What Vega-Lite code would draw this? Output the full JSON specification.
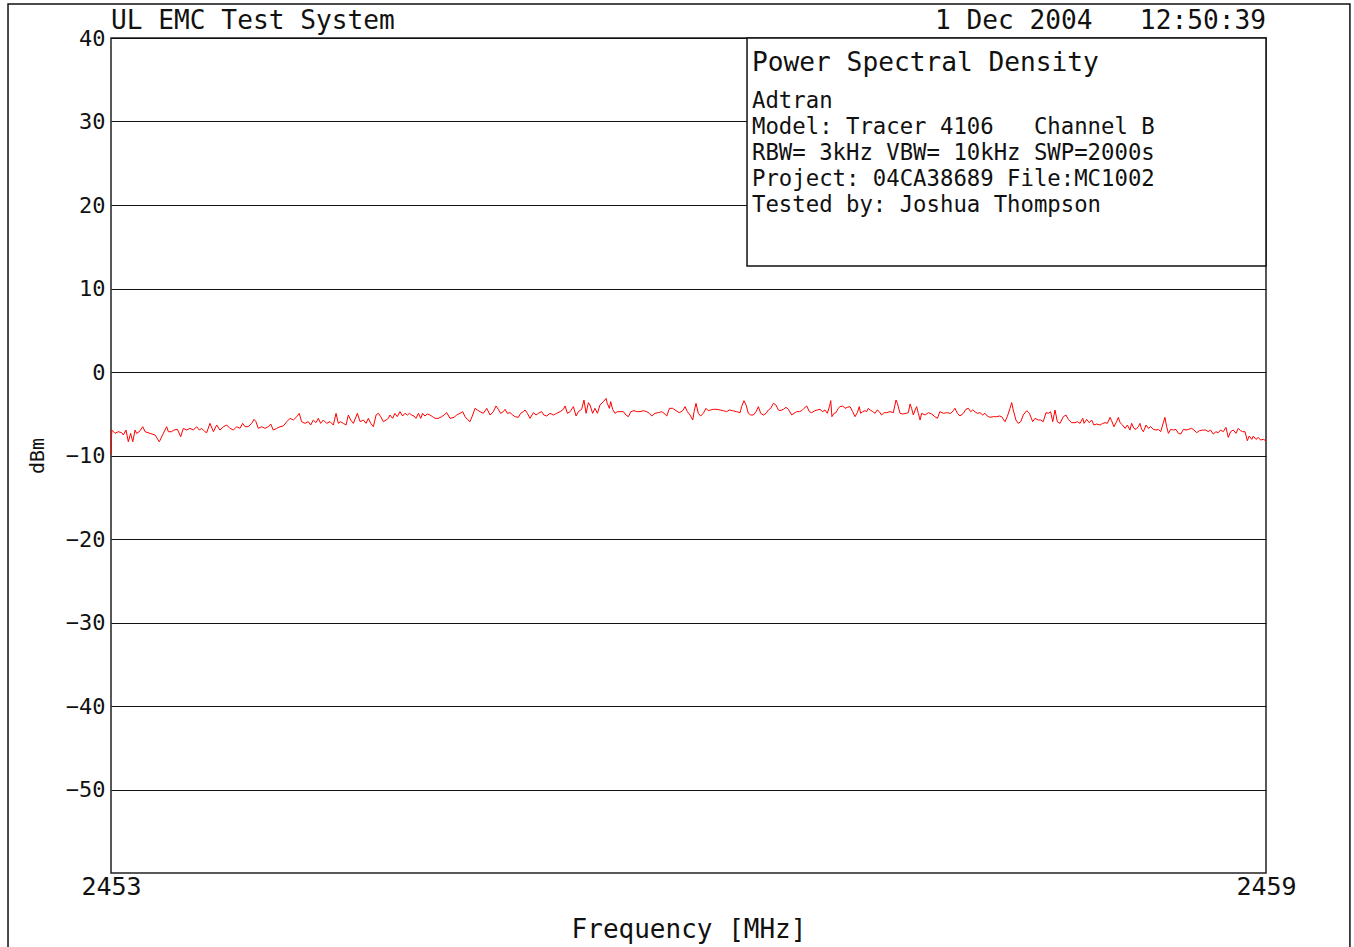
{
"$schema": "https://vega.github.io/schema/vega-lite/v6.json",
"autosize": "none",
"padding": {"left": 111, "top": 38, "right": 88, "bottom": 74},
"width": 1155,
"height": 835,
"background": "white",
"config": {
  "view": {"stroke": "#222", "strokeWidth": 1.5},
  "axis": {"labelFont": "DejaVu Sans Mono", "titleFont": "DejaVu Sans Mono", "labelColor": "#111", "titleColor": "#111", "titleFontWeight": "normal"},
  "text": {"font": "DejaVu Sans Mono", "color": "#111"}
},
"datasets": {
  "one": [{}],
  "trace": [
{"f":2453.000,"d":-9.9},{"f":2453.004,"d":-6.95},{"f":2453.021,"d":-7.35},{"f":2453.038,"d":-7.15},{"f":2453.056,"d":-7.27},{"f":2453.064,"d":-7.55},{"f":2453.078,"d":-6.95},{"f":2453.090,"d":-8.35},{"f":2453.102,"d":-7.35},{"f":2453.113,"d":-8.35},{"f":2453.125,"d":-6.95},{"f":2453.133,"d":-7.35},{"f":2453.147,"d":-7.15},{"f":2453.165,"d":-6.55},{"f":2453.177,"d":-7.15},{"f":2453.203,"d":-7.35},{"f":2453.229,"d":-7.55},{"f":2453.251,"d":-8.35},{"f":2453.272,"d":-7.35},{"f":2453.289,"d":-6.55},{"f":2453.298,"d":-7.15},{"f":2453.315,"d":-7.15},{"f":2453.327,"d":-6.95},{"f":2453.345,"d":-6.87},{"f":2453.362,"d":-7.75},{"f":2453.376,"d":-6.75},{"f":2453.393,"d":-6.95},{"f":2453.410,"d":-6.75},{"f":2453.428,"d":-6.95},{"f":2453.445,"d":-6.55},{"f":2453.459,"d":-6.95},{"f":2453.471,"d":-6.75},{"f":2453.488,"d":-7.15},{"f":2453.497,"d":-7.27},{"f":2453.514,"d":-6.15},{"f":2453.532,"d":-7.15},{"f":2453.549,"d":-6.35},{"f":2453.566,"d":-6.95},{"f":2453.584,"d":-6.55},{"f":2453.601,"d":-6.35},{"f":2453.618,"d":-6.75},{"f":2453.636,"d":-6.95},{"f":2453.653,"d":-6.55},{"f":2453.670,"d":-6.75},{"f":2453.684,"d":-6.15},{"f":2453.696,"d":-6.55},{"f":2453.713,"d":-6.55},{"f":2453.731,"d":-6.15},{"f":2453.743,"d":-5.67},{"f":2453.753,"d":-5.95},{"f":2453.765,"d":-6.75},{"f":2453.783,"d":-6.55},{"f":2453.800,"d":-6.75},{"f":2453.817,"d":-6.55},{"f":2453.830,"d":-6.23},{"f":2453.843,"d":-6.95},{"f":2453.861,"d":-6.75},{"f":2453.878,"d":-6.55},{"f":2453.895,"d":-6.47},{"f":2453.913,"d":-5.95},{"f":2453.930,"d":-5.55},{"f":2453.947,"d":-5.75},{"f":2453.965,"d":-5.35},{"f":2453.978,"d":-4.95},{"f":2453.990,"d":-5.95},{"f":2454.008,"d":-6.15},{"f":2454.025,"d":-5.95},{"f":2454.037,"d":-6.35},{"f":2454.051,"d":-5.75},{"f":2454.065,"d":-6.07},{"f":2454.077,"d":-5.55},{"f":2454.089,"d":-6.15},{"f":2454.103,"d":-5.75},{"f":2454.120,"d":-6.15},{"f":2454.138,"d":-5.95},{"f":2454.155,"d":-6.35},{"f":2454.169,"d":-4.95},{"f":2454.181,"d":-6.15},{"f":2454.193,"d":-5.95},{"f":2454.207,"d":-6.15},{"f":2454.221,"d":-6.35},{"f":2454.233,"d":-5.15},{"f":2454.245,"d":-5.75},{"f":2454.259,"d":-6.15},{"f":2454.280,"d":-4.95},{"f":2454.294,"d":-5.95},{"f":2454.311,"d":-5.75},{"f":2454.325,"d":-6.15},{"f":2454.337,"d":-5.55},{"f":2454.349,"d":-6.15},{"f":2454.363,"d":-6.55},{"f":2454.377,"d":-5.15},{"f":2454.389,"d":-4.95},{"f":2454.401,"d":-5.35},{"f":2454.415,"d":-5.95},{"f":2454.429,"d":-5.75},{"f":2454.441,"d":-5.55},
{"f":2454.449,"d":-5.15},{"f":2454.463,"d":-5.55},{"f":2454.475,"d":-4.95},{"f":2454.487,"d":-5.35},{"f":2454.501,"d":-4.75},{"f":2454.515,"d":-5.27},{"f":2454.527,"d":-4.95},{"f":2454.540,"d":-5.15},{"f":2454.550,"d":-4.95},{"f":2454.562,"d":-5.15},{"f":2454.574,"d":-5.27},{"f":2454.584,"d":-5.55},{"f":2454.597,"d":-4.95},{"f":2454.609,"d":-5.55},{"f":2454.619,"d":-4.95},{"f":2454.631,"d":-5.27},{"f":2454.643,"d":-5.03},{"f":2454.657,"d":-5.15},{"f":2454.671,"d":-5.35},{"f":2454.683,"d":-5.55},{"f":2454.700,"d":-5.55},{"f":2454.718,"d":-5.35},{"f":2454.730,"d":-5.15},{"f":2454.744,"d":-4.87},{"f":2454.761,"d":-5.55},{"f":2454.782,"d":-5.43},{"f":2454.796,"d":-5.15},{"f":2454.813,"d":-4.95},{"f":2454.827,"d":-4.75},{"f":2454.839,"d":-5.35},{"f":2454.851,"d":-5.67},{"f":2454.865,"d":-5.95},{"f":2454.879,"d":-5.15},{"f":2454.891,"d":-4.35},{"f":2454.903,"d":-4.55},{"f":2454.917,"d":-4.75},{"f":2454.934,"d":-4.95},{"f":2454.952,"d":-4.35},{"f":2454.969,"d":-5.15},{"f":2454.986,"d":-4.75},{"f":2455.000,"d":-4.07},{"f":2455.012,"d":-4.47},{"f":2455.024,"d":-4.95},{"f":2455.038,"d":-4.75},{"f":2455.047,"d":-4.47},{"f":2455.059,"d":-4.95},{"f":2455.073,"d":-4.87},{"f":2455.087,"d":-5.15},{"f":2455.099,"d":-5.35},{"f":2455.116,"d":-5.43},{"f":2455.128,"d":-4.95},{"f":2455.142,"d":-4.75},{"f":2455.151,"d":-4.55},{"f":2455.163,"d":-4.95},{"f":2455.177,"d":-5.55},{"f":2455.194,"d":-4.87},{"f":2455.208,"d":-5.15},{"f":2455.220,"d":-4.95},{"f":2455.237,"d":-4.75},{"f":2455.249,"d":-5.15},{"f":2455.263,"d":-5.27},{"f":2455.281,"d":-4.95},{"f":2455.298,"d":-5.15},{"f":2455.315,"d":-4.95},{"f":2455.333,"d":-4.75},{"f":2455.350,"d":-4.47},{"f":2455.359,"d":-4.07},{"f":2455.371,"d":-4.95},{"f":2455.385,"d":-4.75},{"f":2455.402,"d":-4.15},{"f":2455.416,"d":-5.27},{"f":2455.428,"d":-4.75},{"f":2455.445,"d":-4.47},{"f":2455.457,"d":-3.36},{"f":2455.468,"d":-4.95},{"f":2455.480,"d":-3.67},{"f":2455.488,"d":-3.95},{"f":2455.502,"d":-4.95},{"f":2455.514,"d":-4.35},{"f":2455.527,"d":-4.95},{"f":2455.540,"d":-3.95},{"f":2455.558,"d":-3.55},{"f":2455.572,"d":-3.16},{"f":2455.578,"d":-3.75},{"f":2455.589,"d":-4.35},{"f":2455.596,"d":-3.55},{"f":2455.606,"d":-4.47},{"f":2455.618,"d":-4.95},{"f":2455.630,"d":-4.75},{"f":2455.644,"d":-4.75},{"f":2455.662,"d":-4.75},{"f":2455.675,"d":-5.15},{"f":2455.688,"d":-5.35},{"f":2455.700,"d":-4.75},{"f":2455.717,"d":-4.63},{"f":2455.731,"d":-4.75},{"f":2455.748,"d":-4.75},{"f":2455.765,"d":-4.63},{"f":2455.783,"d":-4.75},{"f":2455.797,"d":-4.95},{"f":2455.809,"d":-5.27},{"f":2455.826,"d":-4.95},{"f":2455.843,"d":-4.87},{"f":2455.861,"d":-4.75},{"f":2455.873,"d":-4.95},{"f":2455.887,"d":-5.27},{"f":2455.901,"d":-4.35},{"f":2455.918,"d":-4.35},{"f":2455.935,"d":-4.63},{"f":2455.952,"d":-4.87},
{"f":2455.970,"d":-4.63},{"f":2455.982,"d":-4.15},{"f":2455.994,"d":-4.75},{"f":2456.008,"d":-5.15},{"f":2456.022,"d":-5.75},{"f":2456.029,"d":-4.75},{"f":2456.039,"d":-3.75},{"f":2456.051,"d":-4.95},{"f":2456.063,"d":-5.27},{"f":2456.077,"d":-4.95},{"f":2456.091,"d":-4.35},{"f":2456.103,"d":-4.63},{"f":2456.115,"d":-4.55},{"f":2456.129,"d":-4.47},{"f":2456.146,"d":-4.47},{"f":2456.164,"d":-4.55},{"f":2456.181,"d":-4.63},{"f":2456.198,"d":-4.75},{"f":2456.212,"d":-4.55},{"f":2456.229,"d":-4.63},{"f":2456.250,"d":-4.75},{"f":2456.268,"d":-4.87},{"f":2456.276,"d":-4.15},{"f":2456.288,"d":-3.43},{"f":2456.299,"d":-3.95},{"f":2456.311,"d":-4.95},{"f":2456.323,"d":-5.15},{"f":2456.337,"d":-5.15},{"f":2456.351,"d":-4.75},{"f":2456.363,"d":-4.15},{"f":2456.375,"d":-4.95},{"f":2456.389,"d":-5.15},{"f":2456.403,"d":-4.95},{"f":2456.415,"d":-4.55},{"f":2456.427,"d":-4.35},{"f":2456.441,"d":-3.75},{"f":2456.454,"d":-3.95},{"f":2456.467,"d":-4.55},{"f":2456.475,"d":-4.63},{"f":2456.493,"d":-4.47},{"f":2456.506,"d":-4.23},{"f":2456.519,"d":-4.47},{"f":2456.536,"d":-5.15},{"f":2456.548,"d":-4.95},{"f":2456.562,"d":-4.75},{"f":2456.576,"d":-4.75},{"f":2456.588,"d":-4.63},{"f":2456.600,"d":-4.35},{"f":2456.614,"d":-4.07},{"f":2456.628,"d":-4.75},{"f":2456.640,"d":-4.87},{"f":2456.657,"d":-4.63},{"f":2456.669,"d":-4.55},{"f":2456.683,"d":-4.47},{"f":2456.697,"d":-4.75},{"f":2456.709,"d":-4.55},{"f":2456.721,"d":-4.95},{"f":2456.732,"d":-4.15},{"f":2456.739,"d":-3.43},{"f":2456.745,"d":-5.35},{"f":2456.756,"d":-4.95},{"f":2456.766,"d":-4.87},{"f":2456.778,"d":-4.35},{"f":2456.787,"d":-4.15},{"f":2456.801,"d":-4.07},{"f":2456.813,"d":-4.35},{"f":2456.825,"d":-4.23},{"f":2456.839,"d":-4.15},{"f":2456.853,"d":-4.75},{"f":2456.865,"d":-5.35},{"f":2456.877,"d":-4.87},{"f":2456.887,"d":-4.15},{"f":2456.894,"d":-4.95},{"f":2456.905,"d":-4.75},{"f":2456.917,"d":-4.63},{"f":2456.926,"d":-4.75},{"f":2456.934,"d":-4.35},{"f":2456.943,"d":-4.55},{"f":2456.957,"d":-4.75},{"f":2456.969,"d":-4.95},{"f":2456.981,"d":-4.55},{"f":2456.991,"d":-4.75},{"f":2457.003,"d":-5.15},{"f":2457.016,"d":-4.87},{"f":2457.029,"d":-4.87},{"f":2457.047,"d":-4.75},{"f":2457.064,"d":-4.87},{"f":2457.078,"d":-3.36},{"f":2457.085,"d":-3.75},{"f":2457.099,"d":-4.95},{"f":2457.113,"d":-5.03},{"f":2457.130,"d":-4.95},{"f":2457.142,"d":-4.87},{"f":2457.151,"d":-3.83},{"f":2457.159,"d":-4.35},{"f":2457.168,"d":-5.15},{"f":2457.177,"d":-4.55},{"f":2457.185,"d":-4.15},{"f":2457.194,"d":-4.95},{"f":2457.203,"d":-5.75},{"f":2457.211,"d":-4.95},{"f":2457.229,"d":-5.15},{"f":2457.246,"d":-4.87},{"f":2457.263,"d":-5.03},{"f":2457.280,"d":-5.35},{"f":2457.293,"d":-5.55},{"f":2457.306,"d":-4.75},{"f":2457.324,"d":-4.95},{"f":2457.341,"d":-4.87},{"f":2457.362,"d":-4.95},{"f":2457.376,"d":-4.63},{"f":2457.384,"d":-4.35},{"f":2457.397,"d":-4.95},{"f":2457.410,"d":-5.27},{"f":2457.428,"d":-4.95},{"f":2457.441,"d":-4.47},{"f":2457.454,"d":-4.35},{"f":2457.466,"d":-4.75},
{"f":2457.476,"d":-4.55},{"f":2457.488,"d":-4.75},{"f":2457.500,"d":-4.95},{"f":2457.514,"d":-4.87},{"f":2457.528,"d":-5.15},{"f":2457.540,"d":-4.95},{"f":2457.552,"d":-5.27},{"f":2457.566,"d":-5.43},{"f":2457.584,"d":-5.35},{"f":2457.601,"d":-5.35},{"f":2457.615,"d":-5.27},{"f":2457.627,"d":-5.35},{"f":2457.644,"d":-5.95},{"f":2457.656,"d":-5.35},{"f":2457.670,"d":-4.35},{"f":2457.679,"d":-3.67},{"f":2457.687,"d":-4.55},{"f":2457.701,"d":-5.75},{"f":2457.713,"d":-6.15},{"f":2457.726,"d":-5.95},{"f":2457.739,"d":-5.15},{"f":2457.757,"d":-4.63},{"f":2457.771,"d":-4.95},{"f":2457.788,"d":-5.95},{"f":2457.800,"d":-5.55},{"f":2457.817,"d":-5.75},{"f":2457.829,"d":-5.75},{"f":2457.843,"d":-5.95},{"f":2457.857,"d":-4.87},{"f":2457.869,"d":-4.95},{"f":2457.881,"d":-4.75},{"f":2457.892,"d":-5.95},{"f":2457.904,"d":-4.55},{"f":2457.916,"d":-5.95},{"f":2457.930,"d":-6.15},{"f":2457.947,"d":-5.35},{"f":2457.961,"d":-5.15},{"f":2457.973,"d":-5.67},{"f":2457.990,"d":-6.07},{"f":2458.008,"d":-6.07},{"f":2458.020,"d":-5.95},{"f":2458.034,"d":-6.15},{"f":2458.048,"d":-5.55},{"f":2458.055,"d":-6.15},{"f":2458.068,"d":-5.67},{"f":2458.082,"d":-6.07},{"f":2458.094,"d":-5.75},{"f":2458.106,"d":-6.35},{"f":2458.120,"d":-6.23},{"f":2458.138,"d":-6.35},{"f":2458.152,"d":-6.15},{"f":2458.164,"d":-6.07},{"f":2458.176,"d":-6.15},{"f":2458.190,"d":-5.43},{"f":2458.198,"d":-5.83},{"f":2458.210,"d":-6.55},{"f":2458.224,"d":-5.95},{"f":2458.233,"d":-5.43},{"f":2458.242,"d":-6.07},{"f":2458.255,"d":-6.35},{"f":2458.268,"d":-6.75},{"f":2458.280,"d":-6.35},{"f":2458.293,"d":-6.95},{"f":2458.302,"d":-6.15},{"f":2458.314,"d":-6.75},{"f":2458.325,"d":-6.87},{"f":2458.337,"d":-6.55},{"f":2458.345,"d":-6.15},{"f":2458.354,"d":-6.87},{"f":2458.363,"d":-7.15},{"f":2458.377,"d":-6.35},{"f":2458.389,"d":-6.75},{"f":2458.401,"d":-6.55},{"f":2458.415,"d":-6.87},{"f":2458.429,"d":-6.95},{"f":2458.441,"d":-6.87},{"f":2458.453,"d":-7.15},{"f":2458.463,"d":-6.35},{"f":2458.475,"d":-5.43},{"f":2458.484,"d":-6.55},{"f":2458.493,"d":-7.35},{"f":2458.505,"d":-6.87},{"f":2458.519,"d":-6.95},{"f":2458.532,"d":-6.87},{"f":2458.545,"d":-7.35},{"f":2458.557,"d":-7.43},{"f":2458.571,"d":-6.87},{"f":2458.584,"d":-6.95},{"f":2458.597,"d":-6.87},{"f":2458.614,"d":-6.75},{"f":2458.626,"d":-6.95},{"f":2458.640,"d":-7.27},{"f":2458.654,"d":-7.03},{"f":2458.671,"d":-6.95},{"f":2458.688,"d":-6.95},{"f":2458.700,"d":-7.15},{"f":2458.712,"d":-6.95},{"f":2458.726,"d":-7.43},{"f":2458.740,"d":-7.15},{"f":2458.752,"d":-7.27},{"f":2458.764,"d":-6.95},{"f":2458.778,"d":-7.15},{"f":2458.792,"d":-6.63},{"f":2458.804,"d":-7.83},{"f":2458.816,"d":-7.15},{"f":2458.830,"d":-6.95},{"f":2458.844,"d":-7.35},{"f":2458.856,"d":-6.75},{"f":2458.868,"d":-7.03},{"f":2458.879,"d":-7.15},{"f":2458.891,"d":-7.15},{"f":2458.903,"d":-8.23},{"f":2458.913,"d":-7.67},{"f":2458.926,"d":-8.07},{"f":2458.934,"d":-7.67},{"f":2458.948,"d":-8.07},{"f":2458.960,"d":-7.83},{"f":2458.972,"d":-8.15},{"f":2458.986,"d":-8.07},{"f":2459.000,"d":-8.23}
  ]
},
"layer": [
  {
    "data": {"name": "one"},
    "mark": {"type": "rect", "fillOpacity": 0, "stroke": "#111", "strokeWidth": 1.5, "clip": false},
    "encoding": {
      "x": {"datum": 2452.465, "type": "quantitative", "scale": {"domain": [2453, 2459], "nice": false, "zero": false},
        "axis": {"values": [2453, 2459], "format": "d", "grid": false, "domain": false, "ticks": false, "labelFlush": false, "labelOverlap": false, "labelPadding": 1, "labelFontSize": 25, "title": "Frequency [MHz]", "titleFontSize": 26, "titlePadding": 17}},
      "x2": {"datum": 2459.436},
      "y": {"datum": 44.07, "type": "quantitative", "scale": {"domain": [-60, 40], "nice": false, "zero": false},
        "axis": {"values": [-50, -40, -30, -20, -10, 0, 10, 20, 30, 40], "grid": true, "gridColor": "#111", "gridWidth": 1, "gridOpacity": 1, "domain": false, "ticks": false, "labelPadding": 6, "labelFontSize": 22, "title": "dBm", "titleFontSize": 20, "titlePadding": 18}},
      "y2": {"datum": -69.5}
    }
  },
  {
    "data": {"name": "one"},
    "mark": {"type": "rect", "fill": "white", "stroke": "#111", "strokeWidth": 1.5},
    "encoding": {
      "x": {"datum": 2456.304, "type": "quantitative"},
      "x2": {"datum": 2459},
      "y": {"datum": 40, "type": "quantitative"},
      "y2": {"datum": 12.7}
    }
  },
  {
    "data": {"name": "trace"},
    "mark": {"type": "line", "color": "#ff0000", "strokeWidth": 1},
    "encoding": {
      "x": {"field": "f", "type": "quantitative"},
      "y": {"field": "d", "type": "quantitative"}
    }
  },
  {
    "data": {"name": "one"},
    "mark": {"type": "text", "align": "left", "baseline": "alphabetic", "fontSize": 26.2, "text": "UL EMC Test System"},
    "encoding": {"x": {"datum": 2453, "type": "quantitative"}, "y": {"datum": 41.1, "type": "quantitative"}}
  },
  {
    "data": {"name": "one"},
    "mark": {"type": "text", "align": "right", "baseline": "alphabetic", "fontSize": 26.2, "text": "1 Dec 2004\u00a0\u00a0\u00a012:50:39"},
    "encoding": {"x": {"datum": 2459, "type": "quantitative"}, "y": {"datum": 41.1, "type": "quantitative"}}
  },
  {
    "data": {"name": "one"},
    "mark": {"type": "text", "align": "left", "baseline": "alphabetic", "fontSize": 26.2, "text": "Power Spectral Density"},
    "encoding": {"x": {"datum": 2456.33, "type": "quantitative"}, "y": {"datum": 36.05, "type": "quantitative"}}
  },
  {
    "data": {"name": "one"},
    "mark": {"type": "text", "align": "left", "baseline": "alphabetic", "fontSize": 22.3, "lineHeight": 26,
      "text": ["Adtran", "Model: Tracer 4106\u00a0\u00a0\u00a0Channel B", "RBW= 3kHz VBW= 10kHz SWP=2000s", "Project: 04CA38689 File:MC1002", "Tested by: Joshua Thompson"]},
    "encoding": {"x": {"datum": 2456.33, "type": "quantitative"}, "y": {"datum": 31.56, "type": "quantitative"}}
  }
]
}
